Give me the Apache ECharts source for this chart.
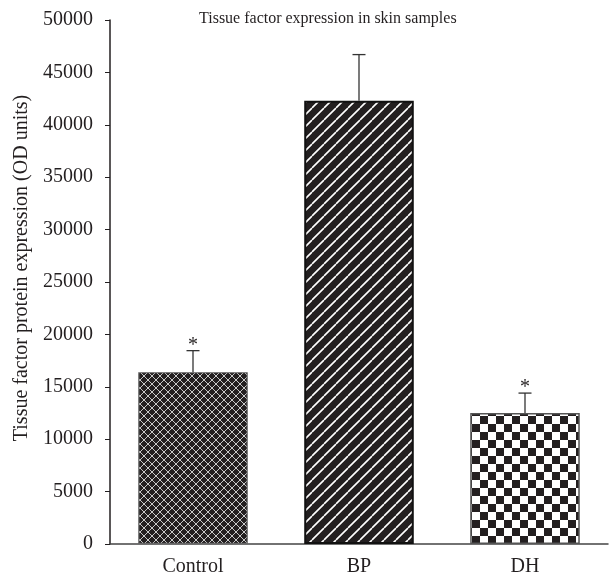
<!DOCTYPE html>
<html>
<head>
<meta charset="utf-8">
<script src="https://cdn.jsdelivr.net/npm/echarts@6/dist/echarts.min.js"></script>
<style>
  html, body { margin: 0; padding: 0; background: #fff; }
  #chart { width: 616px; height: 578px; }
</style>
</head>
<body>
<div id="chart"></div>
<script>
const categories = ['Control', 'BP', 'DH'];
const means = [16400, 42300, 12500];
const errTops = [18450, 46700, 14400];
const stars = ['*', '', '*'];

const FONT = '"Liberation Serif", "DejaVu Serif", serif';
const INK = '#231f20';

// fill patterns for the bars
function makePattern(kind) {
    const c = document.createElement('canvas');
    const ctx = c.getContext('2d');
    if (kind === 'cross') {
        c.width = 8; c.height = 8;
        ctx.fillStyle = INK; ctx.fillRect(0, 0, 8, 8);
        ctx.strokeStyle = '#c8c8c8'; ctx.lineWidth = 1;
        ctx.beginPath();
        ctx.moveTo(0, 0); ctx.lineTo(8, 8);
        ctx.moveTo(8, 0); ctx.lineTo(0, 8);
        ctx.stroke();
    } else if (kind === 'diag') {
        c.width = 12; c.height = 12;
        ctx.fillStyle = INK; ctx.fillRect(0, 0, 12, 12);
        ctx.strokeStyle = '#ffffff'; ctx.lineWidth = 1.6;
        ctx.beginPath();
        for (let k = -1; k <= 1; k++) {
            ctx.moveTo(k * 12, 12); ctx.lineTo(k * 12 + 12, 0);
        }
        ctx.stroke();
    } else {
        c.width = 16; c.height = 16;
        ctx.fillStyle = '#ffffff'; ctx.fillRect(0, 0, 16, 16);
        ctx.fillStyle = INK;
        ctx.fillRect(0, 0, 8, 8);
        ctx.fillRect(8, 8, 8, 8);
    }
    return { image: c, repeat: 'repeat' };
}

const fills = [makePattern('cross'), makePattern('diag'), makePattern('check')];
const borders = [
    { color: '#666', width: 1.2 },
    { color: '#111', width: 2 },
    { color: '#555', width: 1.5 }
];

const chart = echarts.init(document.getElementById('chart'), null, { renderer: 'canvas' });

const option = {
    animation: false,
    title: {
        text: 'Tissue factor expression in skin samples',
        left: 194,
        top: 6,
        textStyle: { fontFamily: FONT, fontSize: 16, fontWeight: 'normal', color: INK }
    },
    // y axis title drawn separately so it can sit a little above the grid middle
    graphic: [{
        type: 'text',
        x: 22,
        y: 268,
        rotation: Math.PI / 2,
        style: {
            text: 'Tissue factor protein expression (OD units)',
            align: 'center',
            verticalAlign: 'middle',
            font: '20px ' + FONT,
            fill: INK
        }
    }],
    grid: { left: 110, right: 8, top: 20, bottom: 34 },
    xAxis: {
        type: 'category',
        data: categories,
        axisLine: { lineStyle: { color: '#444', width: 1.5 } },
        axisTick: { show: false },
        axisLabel: { fontFamily: FONT, fontSize: 20, color: INK, margin: 13 }
    },
    yAxis: {
        type: 'value',
        min: 0,
        max: 50000,
        interval: 5000,
        axisLine: { show: true, lineStyle: { color: INK, width: 1.5 } },
        axisTick: { show: true, inside: false, length: 5, lineStyle: { color: INK } },
        axisLabel: {
            fontFamily: FONT, fontSize: 20, color: INK, margin: 17,
            formatter: v => String(v)
        },
        splitLine: { show: false }
    },
    series: [
        {
            type: 'bar',
            barWidth: '66%',
            data: means.map((v, i) => ({
                value: v,
                itemStyle: {
                    color: fills[i],
                    borderColor: borders[i].color,
                    borderWidth: borders[i].width
                }
            })),
            z: 2
        },
        {
            type: 'custom',
            data: means.map((v, i) => [i, v, errTops[i]]),
            z: 3,
            renderItem: function (params, api) {
                const base = api.coord([api.value(0), api.value(1)]);
                const top = api.coord([api.value(0), api.value(2)]);
                const half = 6.5;
                const children = [
                    {
                        type: 'line',
                        shape: { x1: base[0], y1: base[1], x2: top[0], y2: top[1] },
                        style: { stroke: '#333', lineWidth: 1.3 }
                    },
                    {
                        type: 'line',
                        shape: { x1: top[0] - half, y1: top[1], x2: top[0] + half, y2: top[1] },
                        style: { stroke: '#333', lineWidth: 1.3 }
                    }
                ];
                const s = stars[params.dataIndex];
                if (s) {
                    children.push({
                        type: 'text',
                        style: {
                            text: s,
                            x: top[0],
                            y: top[1] - 15,
                            align: 'center',
                            verticalAlign: 'top',
                            font: '20px ' + FONT,
                            fill: INK
                        }
                    });
                }
                return { type: 'group', children: children };
            }
        }
    ]
};

chart.setOption(option);
</script>
</body>
</html>
